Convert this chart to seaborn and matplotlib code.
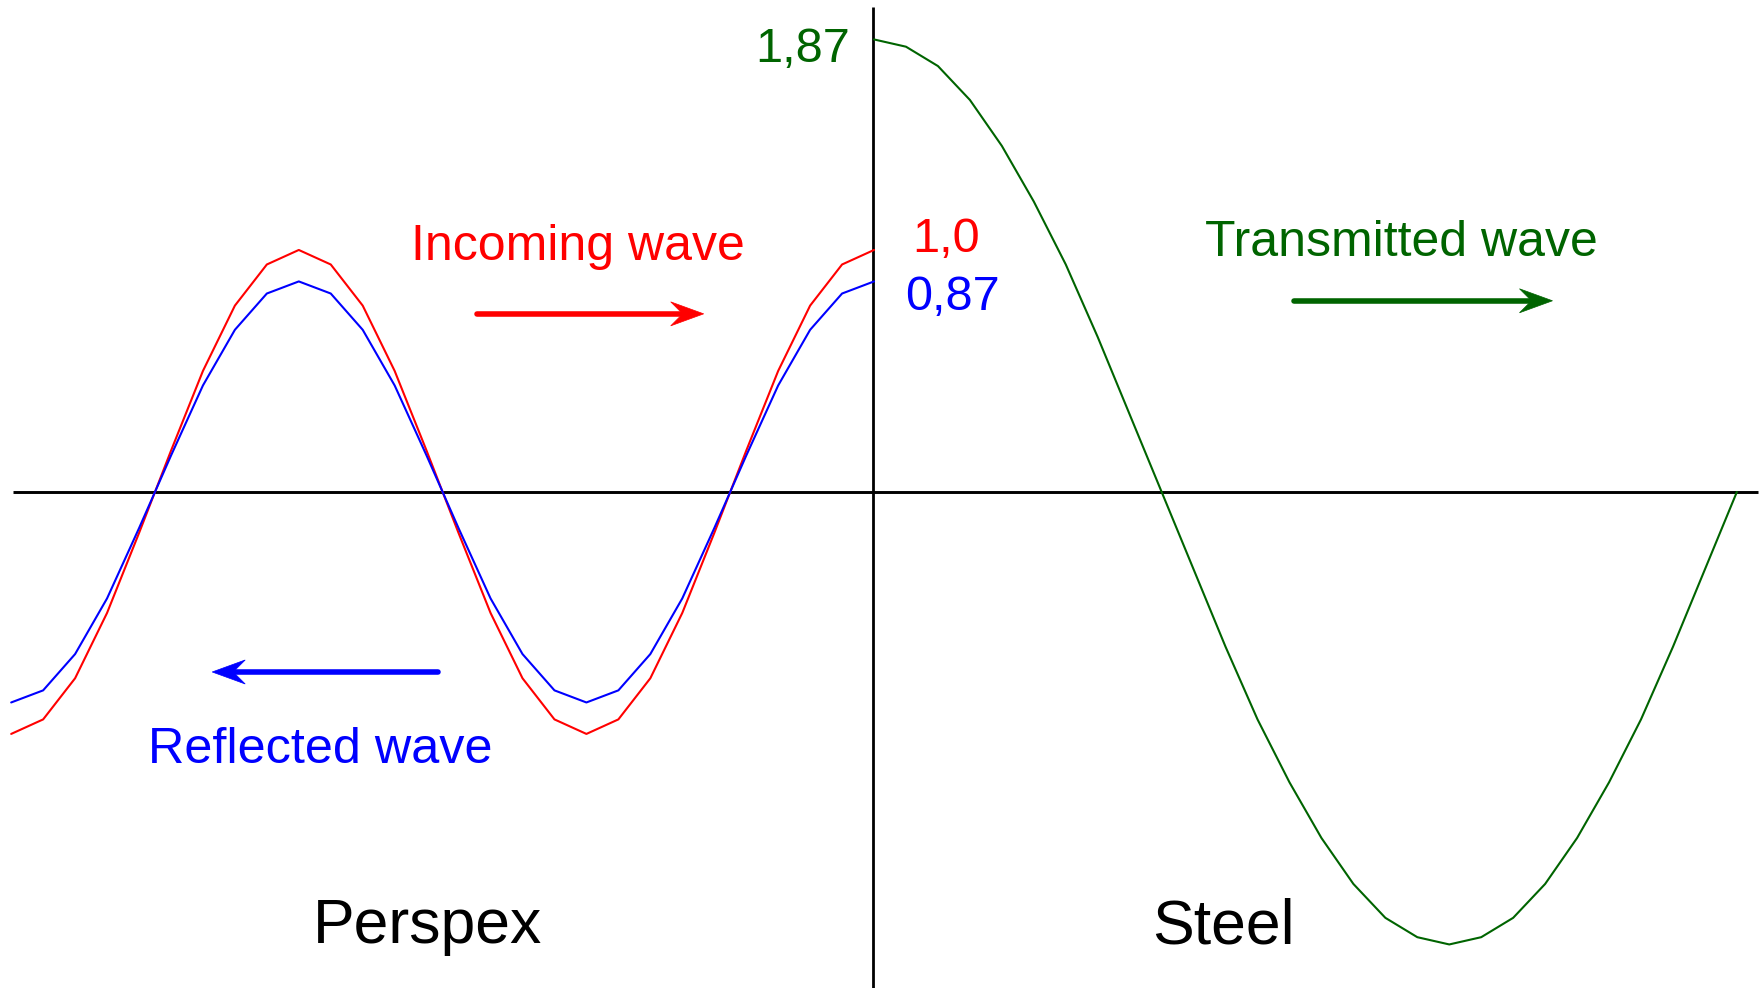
import numpy as np
import pandas as pd
import matplotlib
matplotlib.use('Agg')
import matplotlib.pyplot as plt
from matplotlib.patches import Polygon
import seaborn as sns

# wave samples (one sample per step along x)
incoming = [-1.0, -0.94, -0.77, -0.5, -0.17, 0.17, 0.5, 0.77, 0.94, 1.0,
            0.94, 0.77, 0.5, 0.17, -0.17, -0.5, -0.77, -0.94, -1.0,
            -0.94, -0.77, -0.5, -0.17, 0.17, 0.5, 0.77, 0.94, 1.0]
reflected = [-0.87, -0.82, -0.67, -0.44, -0.15, 0.15, 0.44, 0.67, 0.82, 0.87,
             0.82, 0.67, 0.44, 0.15, -0.15, -0.44, -0.67, -0.82, -0.87,
             -0.82, -0.67, -0.44, -0.15, 0.15, 0.44, 0.67, 0.82, 0.87]
transmitted = [1.87, 1.84, 1.76, 1.62, 1.43, 1.2, 0.94, 0.64, 0.32, 0.0,
               -0.32, -0.64, -0.94, -1.2, -1.43, -1.62, -1.76, -1.84, -1.87,
               -1.84, -1.76, -1.62, -1.43, -1.2, -0.94, -0.64, -0.32, 0.0]

amp_labels = ['1,87', '1,0', '0,87']
wave_labels = ['Incoming wave', 'Reflected wave', 'Transmitted wave']
media = ['Perspex', 'Steel']

RED = '#ff0000'
BLUE = '#0000ff'
GREEN = '#006400'

x_left = np.arange(-len(incoming) + 1, 1)
x_right = np.arange(0, len(transmitted))

df = pd.concat([
    pd.DataFrame({'x': x_left, 'y': incoming, 'wave': 'incoming'}),
    pd.DataFrame({'x': x_left, 'y': reflected, 'wave': 'reflected'}),
    pd.DataFrame({'x': x_right, 'y': transmitted, 'wave': 'transmitted'}),
])

sns.set_theme(style='white')
plt.rcParams['font.family'] = ['Liberation Sans', 'DejaVu Sans']

fig = plt.figure(figsize=(17.65, 9.88), dpi=100)
ax = fig.add_axes([0, 0, 1, 1])
ax.set_xlim(-27.35, 27.88)
ax.set_ylim(-2.05, 2.033)

# pixel size in data units (figure is 1765 x 988 px)
px_x = (27.88 + 27.35) / 1765
px_y = (2.033 + 2.05) / 988

# axes lines
ax.hlines(0, -26.94, 27.66, color='black', lw=2.1, zorder=1)
ax.vlines(-0.04, -2.2, 2.004, color='black', lw=2.0, zorder=1)

sns.lineplot(data=df, x='x', y='y', hue='wave', ax=ax, sort=False,
             estimator=None, legend=False, lw=1.5,
             palette={'incoming': RED, 'reflected': BLUE, 'transmitted': GREEN})

# amplitude labels
ax.text(-0.75, 1.778, amp_labels[0], color=GREEN, fontsize=35, ha='right', va='baseline')
ax.text(1.19, 0.992, amp_labels[1], color=RED, fontsize=35, ha='left', va='baseline')
ax.text(0.97, 0.752, amp_labels[2], color=BLUE, fontsize=35, ha='left', va='baseline')

# wave names
ax.text(-9.26, 0.959, wave_labels[0], color=RED, fontsize=36, ha='center', va='baseline')
ax.text(-17.33, -1.12, wave_labels[1], color=BLUE, fontsize=36.3, ha='center', va='baseline')
ax.text(16.49, 0.975, wave_labels[2], color=GREEN, fontsize=36, ha='center', va='baseline')

# media
ax.text(-13.96, -1.866, media[0], color='black', fontsize=45, ha='center', va='baseline')
ax.text(10.93, -1.866, media[1], color='black', fontsize=45, ha='center', va='baseline')

# direction arrows with a swept (stealth) head
def arrow(x0, x1, y, color):
    d = np.sign(x1 - x0)
    head_len, notch, half_w = 33 * px_x, 21 * px_x, 12 * px_y
    ax.plot([x0, x1 - d * notch], [y, y], color=color, lw=4.0,
            solid_capstyle='round', zorder=3)
    head = Polygon([(x1, y), (x1 - d * head_len, y + half_w),
                    (x1 - d * notch, y), (x1 - d * head_len, y - half_w)],
                   closed=True, facecolor=color, edgecolor=color, lw=0.5, zorder=3)
    ax.add_patch(head)

arrow(-12.42, -5.33, 0.736, RED)
arrow(-13.64, -20.71, -0.744, BLUE)
arrow(13.15, 21.23, 0.79, GREEN)

ax.set_axis_off()

fig.savefig('out.png', dpi=100)
